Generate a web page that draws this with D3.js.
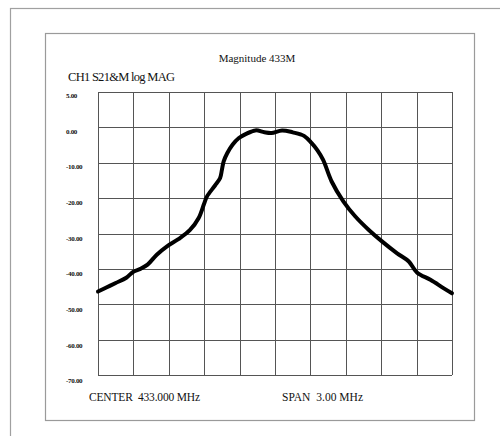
<!doctype html>
<html lang="en">
  <head>
    <meta charset="utf-8">
    <title>Magnitude 433M</title>
    <style type="text/css">
      body { margin: 0; background-color: #ffffff; }
      text { font-family: "Liberation Serif", "DejaVu Serif", serif; fill: #111; }
    </style>
  </head>
  <body>
    <script src="https://d3js.org/d3.v7.min.js"></script>
    <script>
    // data: frequency (MHz) and S21 magnitude (dB)
    var freqMHz = [431.500, 431.575, 431.650, 431.740, 431.800, 431.860, 431.920, 431.998,
      432.082, 432.181, 432.280, 432.352, 432.400, 432.424, 432.490, 432.535, 432.550,
      432.565, 432.595, 432.640, 432.694, 432.751, 432.835, 432.910, 432.970, 433.060,
      433.150, 433.246, 433.309, 433.360, 433.408, 433.480, 433.579, 433.681, 433.795,
      433.909, 434.035, 434.134, 434.203, 434.317, 434.431, 434.500];
    var magDB = [-46.4, -45.2, -44.0, -42.5, -40.8, -40.0, -38.8, -36.0,
      -33.7, -31.6, -29.0, -25.7, -21.5, -19.5, -16.5, -14.3, -12.0,
      -9.6, -7.3, -4.9, -3.0, -1.9, -0.85, -1.4, -1.6, -0.85,
      -1.4, -2.4, -4.4, -6.5, -9.2, -15.3, -20.9, -25.2, -29.0,
      -32.3, -35.6, -37.9, -41.0, -43.1, -45.5, -46.9];

    var yTickValues = [10, 0, -10, -20, -30, -40, -50, -60, -70];
    var yTickLabels = ["5.00", "0.00", "-10.00", "-20.00", "-30.00", "-40.00", "-50.00", "-60.00", "-70.00"];
    var xGridValues = [431.5, 431.8, 432.1, 432.4, 432.7, 433.0, 433.3, 433.6, 433.9, 434.2, 434.5];

    var titleText = "Magnitude 433M";
    var channelText = "CH1 S21&M log MAG";
    var centerText = "CENTER  433.000 MHz";
    var spanText = "SPAN  3.00 MHz";

    var w = 500, h = 436;
    var plot = { left: 98, top: 92, right: 452, bottom: 375 };

    var svg = d3.select("body").append("svg")
      .attr("width", w)
      .attr("height", h);

    // outer and inner frames
    svg.append("rect")
      .attr("x", 10.5).attr("y", 8.5)
      .attr("width", 500).attr("height", 440)
      .style("fill", "none").style("stroke", "#a0a0a0").style("stroke-width", 1.2);
    svg.append("rect")
      .attr("x", 45.5).attr("y", 33.5)
      .attr("width", 429).attr("height", 387)
      .style("fill", "none").style("stroke", "#9a9a9a").style("stroke-width", 1.2);

    var x = d3.scaleLinear()
      .domain([431.5, 434.5])
      .range([plot.left, plot.right]);
    var y = d3.scaleLinear()
      .domain([10, -70])
      .range([plot.top, plot.bottom]);

    // grid
    var grid = svg.append("g");
    grid.selectAll("line.v")
      .data(xGridValues)
      .enter().append("line")
      .attr("class", "v")
      .attr("x1", function(d) { return Math.round(x(d)) + 0.5; })
      .attr("x2", function(d) { return Math.round(x(d)) + 0.5; })
      .attr("y1", plot.top)
      .attr("y2", plot.bottom)
      .style("stroke", "#555").style("stroke-width", 1);
    grid.selectAll("line.h")
      .data(yTickValues)
      .enter().append("line")
      .attr("class", "h")
      .attr("x1", plot.left)
      .attr("x2", plot.right)
      .attr("y1", function(d) { return Math.round(y(d)) + 0.5; })
      .attr("y2", function(d) { return Math.round(y(d)) + 0.5; })
      .style("stroke", "#555").style("stroke-width", 1);

    // y tick labels
    svg.append("g").selectAll("text")
      .data(yTickValues)
      .enter().append("text")
      .attr("x", 66)
      .attr("y", function(d, i) { return y(d) + 6 + i * 0.3; })
      .style("font-size", "7px")
      .style("font-weight", "bold")
      .style("letter-spacing", "-0.3px")
      .text(function(d, i) { return yTickLabels[i]; });

    // trace
    var line = d3.line()
      .x(function(d) { return x(d); })
      .y(function(d, i) { return y(magDB[i]); })
      .curve(d3.curveCatmullRom);
    svg.append("path")
      .datum(freqMHz)
      .attr("d", line)
      .style("fill", "none")
      .style("stroke", "#000")
      .style("stroke-width", 4)
      .style("stroke-linejoin", "round")
      .style("stroke-linecap", "round");

    // texts
    svg.append("text").attr("x", 257).attr("y", 62)
      .attr("text-anchor", "middle")
      .style("font-size", "11px")
      .text(titleText);
    svg.append("text").attr("x", 68).attr("y", 81)
      .style("font-size", "12.5px")
      .attr("textLength", 107)
      .text(channelText);
    svg.append("text").attr("x", 89).attr("y", 401)
      .style("font-size", "11.5px")
      .attr("textLength", 111)
      .style("white-space", "pre")
      .text(centerText);
    svg.append("text").attr("x", 282).attr("y", 401)
      .style("font-size", "11.5px")
      .attr("textLength", 81)
      .style("white-space", "pre")
      .text(spanText);
    </script>
  </body>
</html>
